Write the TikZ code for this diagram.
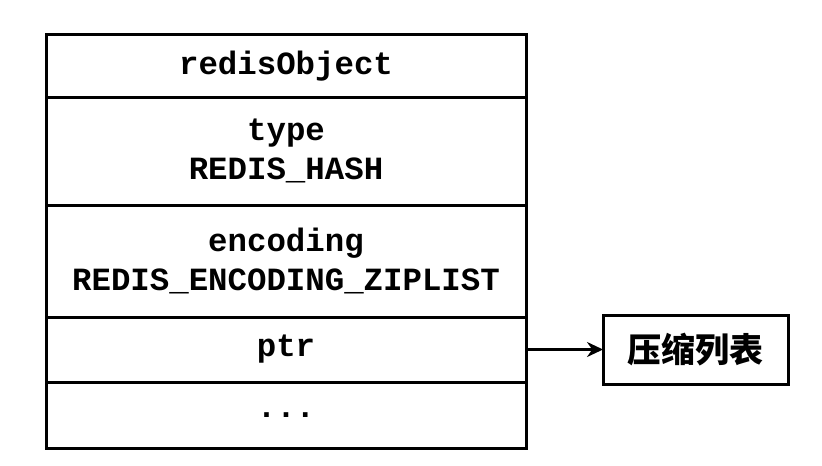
\documentclass[tikz,border=0pt]{standalone}
\usepackage{fontspec}
\setmonofont{Liberation Mono}
\newfontfamily\cjk{Noto Sans CJK SC}
\usetikzlibrary{positioning, arrows.meta}
\tikzstyle{field} = [rectangle, draw=black, line width=1.5pt, minimum width=240pt, outer sep=0pt, inner sep=0pt, align=center, font=\ttfamily\bfseries\fontsize{16.2}{19.5}\selectfont]
\tikzstyle{target} = [rectangle, draw=black, line width=1.5pt, minimum width=92.5pt, minimum height=34.5pt, outer sep=0pt, font=\cjk\bfseries\fontsize{17}{20}\selectfont]
\tikzstyle{arrow} = [line width=1.3pt, -{Stealth[length=8pt, width=7.5pt]}]

\begin{document}
\begin{tikzpicture}
        \useasboundingbox (0,0) rectangle (411pt,-232.5pt);
        \node (obj) [field, minimum height=31pt] at (143pt,-33pt) {redisObject};
        \node (type) [field, minimum height=54pt, below=0pt of obj] {type\\REDIS\_HASH};
        \node (encoding) [field, minimum height=56pt, below=0pt of type] {encoding\\REDIS\_ENCODING\_ZIPLIST};
        \node (ptr) [field, minimum height=32.5pt, below=0pt of encoding] {ptr};
        \node (dots) [field, minimum height=33pt, below=0pt of ptr] {...};
        \node (ziplist) [target, right=38.5pt of ptr] {压缩列表};

        \draw [arrow] (ptr) -- (ziplist);
    \end{tikzpicture}
\end{document}
